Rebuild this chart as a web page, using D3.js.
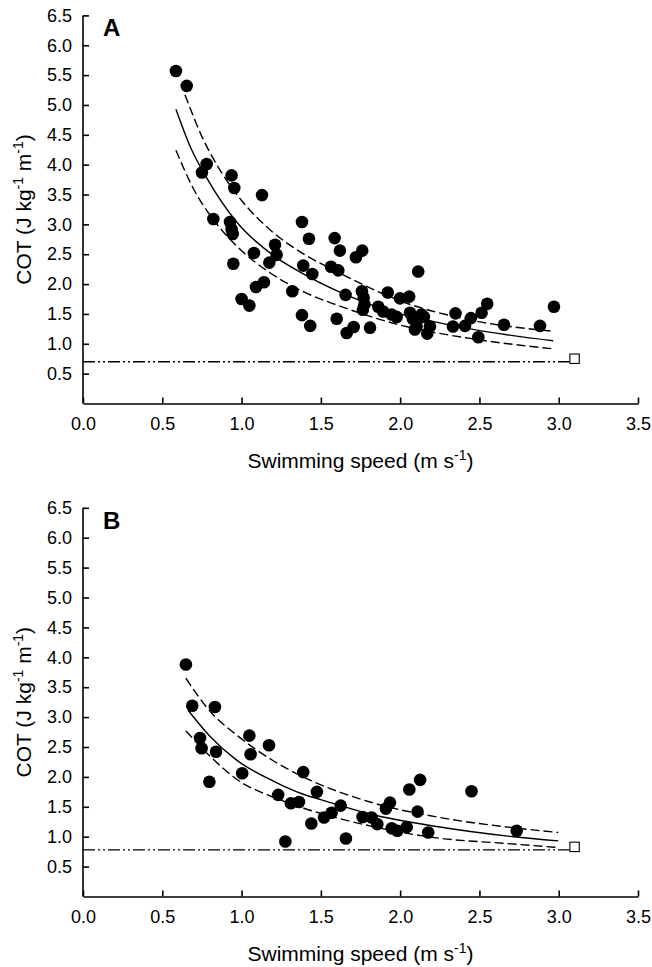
<!DOCTYPE html>
<html>
<head>
<meta charset="utf-8">
<script src="https://cdn.jsdelivr.net/npm/d3@7"></script>
<style>
  body { margin: 0; background: #fff; }
  text { font-family: Arial, "Liberation Sans", sans-serif; fill: #000; }
</style>
</head>
<body>
<script>
// tick values
const xTicks = [0, 0.5, 1.0, 1.5, 2.0, 2.5, 3.0, 3.5];
const yTicks = [0.5, 1.0, 1.5, 2.0, 2.5, 3.0, 3.5, 4.0, 4.5, 5.0, 5.5, 6.0, 6.5];

// panel A points (speed, COT)
const speedA = [0.586,0.654,0.78,0.75,0.937,0.954,1.129,0.822,0.927,0.937,0.944,1.381,1.425,1.587,1.62,1.761,1.721,1.211,1.221,1.175,1.078,0.948,1.389,1.446,1.564,1.61,2.114,1.141,1.091,1.32,1.0,1.049,1.381,1.433,1.656,1.759,1.77,1.775,1.765,1.922,1.999,2.057,2.062,1.862,1.893,1.946,1.978,2.135,2.104,2.093,2.188,2.171,2.349,2.333,2.409,2.446,2.514,2.549,2.493,2.655,2.882,2.97,1.6,1.663,1.707,1.81,2.08,2.15];
const cotA   = [5.57,5.32,4.01,3.87,3.82,3.61,3.49,3.09,3.04,2.92,2.84,3.04,2.76,2.77,2.56,2.56,2.45,2.66,2.49,2.36,2.52,2.34,2.31,2.17,2.29,2.23,2.21,2.03,1.95,1.88,1.75,1.64,1.48,1.30,1.82,1.88,1.77,1.66,1.57,1.86,1.76,1.79,1.52,1.62,1.54,1.49,1.45,1.49,1.29,1.24,1.29,1.17,1.51,1.29,1.30,1.43,1.52,1.67,1.11,1.32,1.30,1.62,1.42,1.18,1.28,1.27,1.42,1.45];

// panel B points
const speedB = [0.649,0.689,0.832,0.738,0.748,0.839,0.797,1.004,1.049,1.057,1.173,1.389,1.231,1.311,1.362,1.475,1.44,1.276,1.52,1.568,1.625,1.658,1.763,1.82,1.856,1.91,1.936,1.947,1.982,2.041,2.058,2.126,2.11,2.177,2.45,2.735];
const cotB   = [3.88,3.19,3.17,2.65,2.48,2.42,1.92,2.06,2.69,2.38,2.53,2.08,1.70,1.56,1.58,1.75,1.22,0.92,1.32,1.40,1.52,0.97,1.33,1.32,1.21,1.47,1.57,1.14,1.10,1.16,1.79,1.95,1.42,1.07,1.76,1.10];

// fitted curve and bands
const fitAmidX = [0.586,0.68,0.78,0.969,1.2,1.389,1.81,2.4,2.965];
const fitAmidY = [4.93,4.28,3.78,3.04,2.48,2.17,1.66,1.27,1.05];
const fitAhiX  = [0.643,0.75,0.864,1.0,1.179,1.4,1.6,2.02,2.44,2.965];
const fitAhiY  = [5.17,4.47,3.91,3.40,2.91,2.49,2.21,1.70,1.40,1.21];
const fitAloX  = [0.586,0.7,0.822,1.0,1.179,1.4,1.6,2.02,2.44,2.965];
const fitAloY  = [4.24,3.58,3.08,2.56,2.19,1.86,1.65,1.30,1.09,0.915];

const fitBmidX = [0.664,0.8,0.969,1.2,1.389,1.5,1.81,2.23,2.713,2.997];
const fitBmidY = [3.11,2.68,2.28,1.93,1.71,1.62,1.38,1.17,1.0,0.93];
const fitBhiX  = [0.649,0.8,0.969,1.2,1.389,1.81,2.23,2.65,2.997];
const fitBhiY  = [3.65,3.10,2.70,2.27,2.0,1.58,1.33,1.17,1.07];
const fitBloX  = [0.649,0.8,0.969,1.2,1.389,1.81,2.23,2.65,2.997];
const fitBloY  = [2.77,2.35,1.96,1.66,1.48,1.18,0.98,0.89,0.82];

// minimum COT line and marker
const minA = {line: 0.70, speed: 3.1, cot: 0.75};
const minB = {line: 0.78, speed: 3.1, cot: 0.83};

var width = 652, height = 967;
var svg = d3.select("body").append("svg")
  .attr("width", width)
  .attr("height", height);

var x = d3.scaleLinear().domain([0, 3.5]).range([83, 638]);

function panel(top, bottom, label, sx, sy, fits, minc) {
  let y = d3.scaleLinear().domain([0, 6.5]).range([bottom, top]);
  let g = svg.append("g");

  // axes
  let yAxis = d3.axisLeft(y).tickValues(yTicks).tickSizeInner(-6).tickSizeOuter(0)
    .tickPadding(11).tickFormat(d3.format(".1f"));
  let gy = g.append("g").attr("transform", `translate(${x(0)},0)`).call(yAxis);
  gy.select(".domain").attr("d", `M0,${top}V${bottom}`);

  let xAxis = d3.axisBottom(x).tickValues(xTicks).tickSizeInner(-6).tickSizeOuter(0)
    .tickPadding(14).tickFormat(d3.format(".1f"));
  let gx = g.append("g").attr("transform", `translate(0,${bottom})`).call(xAxis);

  g.selectAll(".domain, .tick line").attr("stroke", "#000").attr("stroke-width", 1.6);
  g.selectAll(".tick text").style("font-size", "18px").attr("fill", "#000");
  gx.selectAll(".tick text").attr("dy", "0.71em");

  // minimum line
  g.append("line")
    .attr("x1", x(0)).attr("x2", x(minc.speed) - 5)
    .attr("y1", y(minc.line)).attr("y2", y(minc.line))
    .attr("stroke", "#000").attr("stroke-width", 1.4)
    .attr("stroke-dasharray", "12,3,2,3,2,3");

  // curves
  let line = d3.line().x(d => x(d[0])).y(d => y(d[1])).curve(d3.curveMonotoneX);
  fits.forEach(f => {
    g.append("path")
      .datum(f.xs.map((v, i) => [v, f.ys[i]]))
      .attr("d", line)
      .attr("fill", "none")
      .attr("stroke", "#000")
      .attr("stroke-width", 1.4)
      .attr("stroke-dasharray", f.dash ? "9,4" : null);
  });

  // points
  g.selectAll("circle.pt")
    .data(sx.map((v, i) => [v, sy[i]]))
    .enter().append("circle")
    .attr("class", "pt")
    .attr("cx", d => x(d[0]))
    .attr("cy", d => y(d[1]))
    .attr("r", 6.3)
    .attr("fill", "#000");

  // open square
  g.append("rect")
    .attr("x", x(minc.speed) - 4.7).attr("y", y(minc.cot) - 4.7)
    .attr("width", 9.4).attr("height", 9.4)
    .attr("fill", "#fff").attr("stroke", "#000").attr("stroke-width", 1.1);

  // panel letter
  g.append("text")
    .attr("x", 103).attr("y", top + 21)
    .style("font-size", "24px").style("font-weight", "bold")
    .text(label);

  // axis titles
  let xt = g.append("text")
    .attr("x", (x(0) + x(3.5)) / 2).attr("y", bottom + 64)
    .attr("text-anchor", "middle").style("font-size", "21px");
  xt.append("tspan").text("Swimming speed (m s");
  xt.append("tspan").attr("dy", -8).style("font-size", "14px").text("-1");
  xt.append("tspan").attr("dy", 8).text(")");

  let yt = g.append("text")
    .attr("transform", `translate(31,${(top + bottom) / 2}) rotate(-90)`)
    .attr("text-anchor", "middle").style("font-size", "21px");
  yt.append("tspan").text("COT (J kg");
  yt.append("tspan").attr("dy", -8).style("font-size", "14px").text("-1");
  yt.append("tspan").attr("dy", 8).text(" m");
  yt.append("tspan").attr("dy", -8).style("font-size", "14px").text("-1");
  yt.append("tspan").attr("dy", 8).text(")");
}

panel(15.4, 403.5, "A", speedA, cotA, [
  {xs: fitAmidX, ys: fitAmidY, dash: false},
  {xs: fitAhiX, ys: fitAhiY, dash: true},
  {xs: fitAloX, ys: fitAloY, dash: true}
], minA);

panel(507.8, 896.5, "B", speedB, cotB, [
  {xs: fitBmidX, ys: fitBmidY, dash: false},
  {xs: fitBhiX, ys: fitBhiY, dash: true},
  {xs: fitBloX, ys: fitBloY, dash: true}
], minB);
</script>
</body>
</html>
